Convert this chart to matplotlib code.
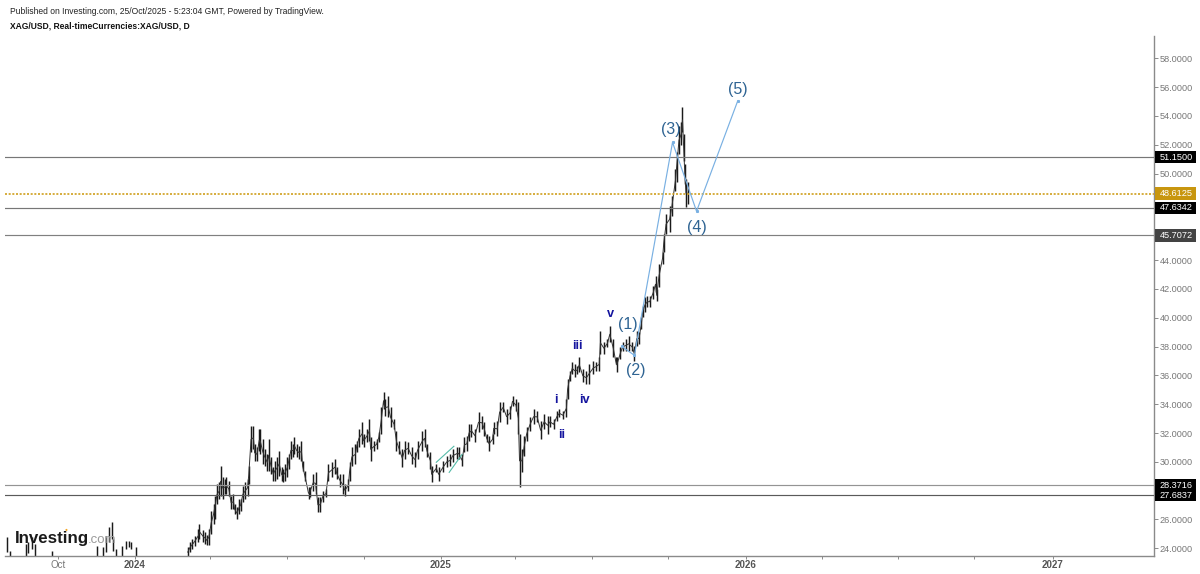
import matplotlib
matplotlib.use("Agg")
import matplotlib.pyplot as plt
from matplotlib.patches import Rectangle
from matplotlib.transforms import blended_transform_factory

plt.rcParams['font.family'] = ['Liberation Sans', 'DejaVu Sans']

# Trading days counted from the start of 2024
bar_days = [-109,-107,-93,-91,-88,-85,-71,-32,-27,-25,-22,-20,-19,-16,-11,-8,-5,-3,1,
 45,47,49,51,54,55,58,60,61,63,65,67,68,70,72,73,75,77,78,80,82,84,85,87,89,90,92,94,96,97,
 99,101,102,104,106,107,109,111,113,114,116,118,119,121,123,125,126,128,130,131,133,135,136,138,140,142,143,145,
 148,149,152,154,156,158,160,163,165,168,171,172,175,177,179,182,183,185,188,189,191,194,195,198,200,201,204,206,208,
 210,212,213,216,218,221,223,225,228,230,233,236,239,241,245,247,249,252,253,257,259,263,266,269,271,275,276,279,281,
 283,285,287,290,293,296,298,300,302,305,306,309,311,314,317,320,322,325,327,328,330,332,334,337,340,343,346,349,352,
 354,357,360,362,365,368,369,371,373,375,377,379,382,385,387,391,393,396,397,400,403,405,408,410,411,414,416,419,421,
 424,426,428,430,432,433,435,437,439,442,444,445,447,450,451,453,456,458,461,462,464,466,467,468,469,470,472]
bar_highs = [24.76,23.8,24.28,24.42,24.76,24.28,23.8,24.14,24.07,24.83,25.46,25.8,24.62,23.93,24.14,24.49,24.49,24.42,24.07,
 24.07,24.42,24.62,24.83,25.32,25.67,25.25,25.11,24.9,25.32,26.57,27.05,27.61,28.44,28.58,29.69,28.93,28.79,28.93,28.65,27.61,27.75,27.05,26.85,27.4,27.4,28.3,28.58,28.79,29.69,
 32.47,32.47,31.22,31.0,32.26,32.26,31.56,30.87,30.52,31.56,30.32,29.62,30.04,30.32,30.73,29.62,29.48,29.83,30.32,30.52,31.42,31.22,31.7,31.22,31.08,31.42,30.04,29.34,
 28.23,28.23,29.14,29.27,27.54,27.54,27.95,28.09,29.83,29.97,30.18,29.62,29.14,29.14,28.44,28.79,29.97,31.0,31.22,31.42,32.26,32.74,31.91,32.26,32.95,31.7,31.42,31.56,32.05,
 33.78,34.83,34.34,34.55,33.78,32.95,32.12,31.42,30.87,31.42,31.36,31.0,30.66,31.42,32.12,32.26,31.22,30.66,29.69,29.83,29.62,30.04,30.38,30.52,30.87,31.0,31.0,30.52,31.7,
 31.77,32.61,32.61,32.26,33.44,33.16,32.74,31.91,31.77,31.91,32.74,32.81,34.13,34.13,33.65,33.85,34.55,34.34,34.13,31.91,30.87,31.77,32.4,33.09,33.65,33.51,32.81,33.3,33.16,
 33.16,32.95,33.51,33.65,33.51,34.34,35.73,36.28,36.91,36.77,36.63,37.25,36.42,36.28,36.77,36.98,36.91,37.25,39.06,38.3,38.5,39.41,38.5,37.25,37.25,37.95,38.3,38.5,38.71,
 38.3,38.02,39.06,38.99,40.03,40.8,41.42,41.49,41.49,42.18,42.88,41.97,43.71,44.54,45.79,47.18,47.73,48.43,50.3,51.48,53.28,53.56,54.6,52.73,50.65,49.61,49.4]
bar_lows = [23.72,23.4,23.4,23.7,23.93,23.4,23.4,23.4,23.4,23.72,24.42,24.62,23.8,23.4,23.4,23.93,24.07,23.93,23.4,
 23.4,23.72,23.93,24.14,24.42,24.62,24.42,24.28,24.21,24.21,24.97,25.67,26.01,27.05,27.4,27.61,27.4,27.75,27.75,27.61,26.71,26.71,26.36,26.01,26.36,26.57,27.19,27.4,27.61,28.44,
 30.66,30.87,30.04,30.04,30.73,30.52,29.83,29.69,29.34,29.34,29.14,28.65,28.65,28.79,29.0,28.65,28.58,28.65,28.93,29.48,30.18,30.32,30.52,30.32,30.18,30.04,29.34,28.65,
 27.4,27.54,27.95,27.75,26.5,26.5,27.19,27.54,28.65,28.93,29.14,28.79,28.23,27.75,27.61,27.95,28.65,29.69,29.83,30.66,31.0,31.22,31.0,31.36,31.42,30.04,30.73,30.87,31.36,
 31.91,33.65,33.16,33.09,32.4,32.26,30.73,30.52,29.62,30.18,30.52,29.83,29.62,30.18,30.73,31.0,30.32,29.48,28.58,29.27,28.65,29.27,29.62,29.69,29.97,30.18,30.18,29.69,30.66,
 30.73,31.42,31.7,31.36,32.05,32.26,31.77,31.36,30.73,31.22,31.91,31.77,32.74,33.44,32.61,32.95,33.85,33.51,31.91,28.23,29.27,30.38,31.42,32.12,32.61,32.74,31.56,32.26,31.91,
 32.4,32.26,32.81,33.09,32.95,33.09,34.34,35.59,36.07,35.87,36.07,36.21,35.52,35.38,35.38,36.07,36.28,36.28,37.46,37.46,37.95,38.3,37.25,36.77,36.21,37.12,37.67,37.67,37.67,
 37.67,36.98,38.02,38.16,39.2,40.03,40.38,40.73,40.73,41.28,41.77,41.14,42.11,43.71,44.54,45.79,45.93,47.04,48.77,49.4,51.34,51.97,52.87,50.86,49.26,47.66,47.87]

level_values = [51.15, 47.6342, 45.7072, 28.3716, 27.6837]
level_colors = ['#777777', '#777777', '#808080', '#949494', '#5a5a5a']
level_boxes = ['#000000', '#000000', '#434343', '#000000', '#000000']
last_price = 48.6125

wave_days = [415, 426, 458.5, 479, 514]
wave_prices = [38.02, 37.39, 52.17, 47.39, 55.02]
wave_labels = ['(1)', '(2)', '(3)', '(4)', '(5)']
wave_label_days = [420, 427, 457, 479, 514]
wave_label_prices = [39.54, 36.35, 53.07, 46.28, 55.85]

sub_labels = ['i', 'ii', 'iii', 'iv', 'v']
sub_label_days = [359, 363.5, 377, 383, 406]
sub_label_prices = [34.27, 31.84, 38.02, 34.27, 40.24]

channel_days = [[257, 272], [268, 279]]
channel_prices = [[29.97, 31.08], [29.27, 30.52]]

y_ticks = list(range(24, 60, 2))
covered_ticks = [28, 46, 48]
x_ticks = [-66, 0, 64, 130, 195, 261, 324, 390, 455, 521, 586, 651, 716, 783]
x_labels = ['Oct', '2024', '', '', '', '2025', '', '', '', '2026', '', '', '', '2027']

fig = plt.figure(figsize=(12, 5.74), dpi=100)
ax = fig.add_axes([5/1200, 1 - 555.5/574, 1149/1200, 519.5/574])
ax.set_xlim(-110.9, 869.2)
ax.set_ylim(23.5, 59.55)

for s in ('top', 'left'):
    ax.spines[s].set_visible(False)
for s in ('right', 'bottom'):
    ax.spines[s].set_color('#8a8a8a')
    ax.spines[s].set_linewidth(1.0)

ax.yaxis.tick_right()
ax.set_yticks(y_ticks)
ax.set_yticklabels(['' if v in covered_ticks else f'{v:.4f}' for v in y_ticks], fontsize=6.6, color='#777777')
ax.tick_params(axis='y', length=3, width=0.7, color='#8a8a8a', pad=1.2)
ax.set_xticks(x_ticks)
ax.set_xticklabels(x_labels, fontsize=7, color='#777777')
ax.tick_params(axis='x', length=2, width=0.7, color='#8a8a8a', pad=1.5)
for lab in ax.get_xticklabels():
    if lab.get_text().isdigit():
        lab.set_fontweight('bold')
        lab.set_color('#555555')

ax.vlines(bar_days, bar_lows, bar_highs, color='#1a1a1a', linewidth=1.05, zorder=2)

# Thin trace through consecutive bars of the unbroken stretch
main_start = bar_days.index(45)
mids = [(h + l) / 2 for h, l in zip(bar_highs, bar_lows)]
ax.plot(bar_days[main_start:], mids[main_start:], color='#333333', linewidth=0.7, zorder=2)

for v, c in zip(level_values, level_colors):
    ax.axhline(v, color=c, linewidth=0.85, zorder=3)
ax.axhline(last_price, color='#cf9f1d', linewidth=1.2, linestyle=(0, (1.2, 1.0)), zorder=3)

for d, p in zip(channel_days, channel_prices):
    ax.plot(d, p, color='#55bba8', linewidth=0.8, zorder=4)
ax.plot(wave_days, wave_prices, color='#79b0e2', linewidth=0.85, marker='s', markersize=1.2, zorder=4)

for t, d, p in zip(wave_labels, wave_label_days, wave_label_prices):
    ax.text(d, p, t, fontsize=11.5, color='#2f6493', ha='center', va='center', zorder=5)
for t, d, p in zip(sub_labels, sub_label_days, sub_label_prices):
    ax.text(d, p, t, fontsize=9.2, fontweight='bold', color='#14149e', ha='center', va='center', zorder=5)

trans = blended_transform_factory(ax.transAxes, ax.transData)
box_height = 0.86
box_width = 41 / 1149
for v, c in [(last_price, '#c8960f')] + list(zip(level_values, level_boxes)):
    ax.add_patch(Rectangle((1.00087, v - box_height / 2), box_width, box_height, transform=trans,
                           facecolor=c, edgecolor='none', clip_on=False, zorder=6))
    ax.text(1.0048, v, f'{v:.4f}', transform=trans, fontsize=6.6, color='white', va='center', ha='left',
            clip_on=False, zorder=7)

fig.text(10/1200, 1 - 11/574, 'Published on Investing.com, 25/Oct/2025 - 5:23:04 GMT, Powered by TradingView.',
         fontsize=6.15, color='#222222', va='center', ha='left')
fig.text(10/1200, 1 - 26/574, 'XAG/USD, Real-timeCurrencies:XAG/USD, D',
         fontsize=6.15, fontweight='bold', color='#111111', va='center', ha='left')

fig.text(15/1200, 1 - 543/574, 'Investing', fontsize=12.2, fontweight='bold', color='#1a1a1a', va='baseline', ha='left', zorder=8)
fig.text(88/1200, 1 - 543/574, '.com', fontsize=9.5, color='#9a9a9a', va='baseline', ha='left', zorder=8)
fig.text(66/1200, 1 - 529.5/574, '\u25cf', fontsize=3.5, color='#f5a623', va='center', ha='center', zorder=8)

fig.savefig('out.png', dpi=100)
